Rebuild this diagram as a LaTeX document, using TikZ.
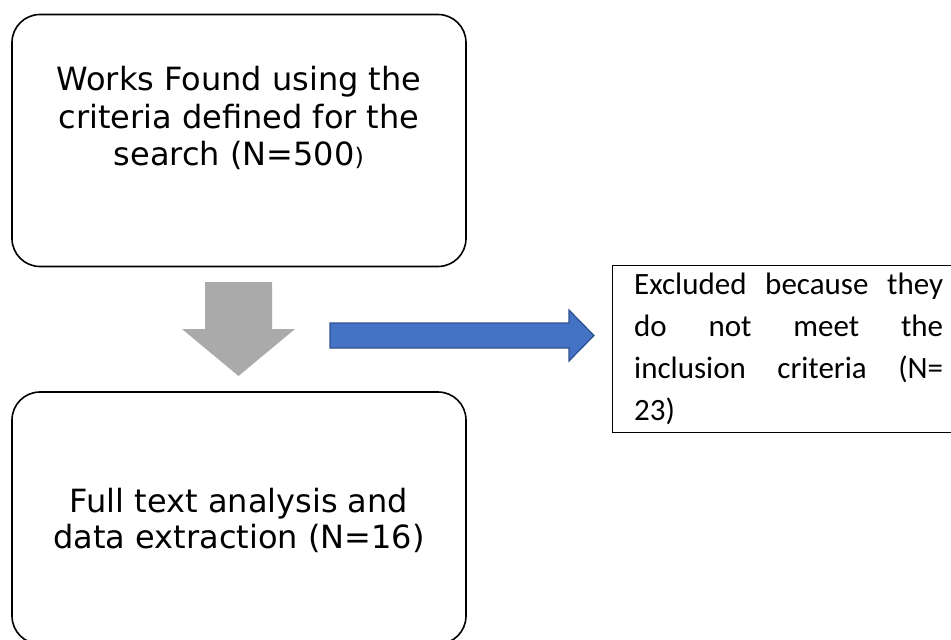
\documentclass[tikz,border=0pt]{standalone}
\usepackage{fontspec}
\setmainfont{DejaVu Sans}
\newfontfamily\calfont{Carlito}
\usepackage{tikz}
\usetikzlibrary{positioning, arrows.meta, fit, shapes}

\definecolor{arrowgray}{RGB}{170,170,170}
\definecolor{arrowblue}{RGB}{68,114,196}
\definecolor{arrowline}{RGB}{47,82,143}

\begin{document}
\begin{tikzpicture}[
            x=1pt, y=-1pt,
            block/.style={rectangle, draw, line width=1.6pt, rounded corners=28pt, minimum height=252pt, minimum width=454pt},
            blocktext/.style={align=center, inner sep=0pt, font=\fontsize{32}{37.5}\selectfont},
            note/.style={rectangle, draw, line width=0.9pt, minimum height=167pt, minimum width=343pt},
            notetext/.style={align=justify, text width=309pt, inner sep=0pt, font=\calfont\fontsize{31}{42}\selectfont}
        ]

        \useasboundingbox (0,0) rectangle (951,640);

        \node[block] (search) at (239,140.5) {};
        \node[blocktext, anchor=north] (searchtext) at (239,66) {Works Found using the\\criteria defined for the\\search (N=500{\fontsize{24}{24}\selectfont)}};

        \node[block] (analysis) at (239,518) {};
        \node[blocktext, anchor=north, font=\fontsize{32}{35.5}\selectfont] (analysistext) at (239,488) {Full text analysis and\\data extraction (N=16)};

        \node[note] (excluded) at (783.5,348.5) {};
        \node[notetext, anchor=north west] (excludedtext) at (634,273) {Excluded because they\linebreak do not meet the\linebreak inclusion criteria (N=\linebreak 23)};

        % down arrow between the boxes
        \fill[arrowgray] (205,282) -- (272,282) -- (272,329) -- (295,329) -- (238.5,376) -- (182,329) -- (205,329) -- cycle;

        % arrow to the excluded works
        \filldraw[fill=arrowblue, draw=arrowline, line width=1.2pt] (330,323) -- (569,323) -- (569,310) -- (594,335.5) -- (569,361) -- (569,348) -- (330,348) -- cycle;

    \end{tikzpicture}
\end{document}
